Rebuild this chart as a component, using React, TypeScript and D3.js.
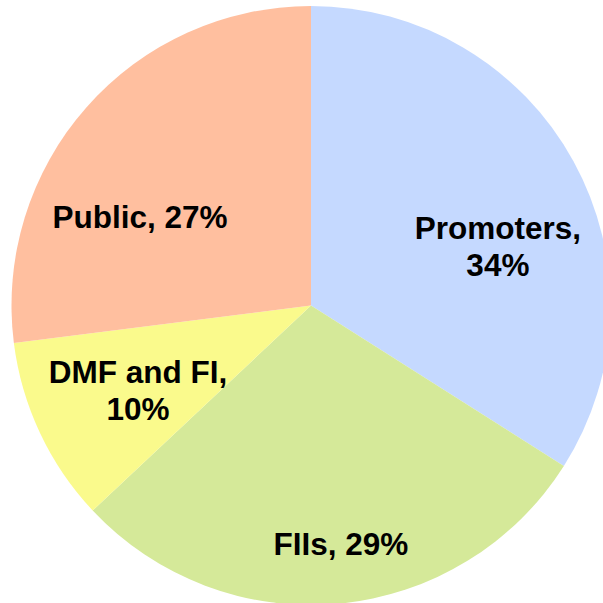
import * as d3 from "d3";

// shareholding split, clockwise from 12 o'clock
const categories = ["Promoters", "FIIs", "DMF and FI", "Public"];
const shares = [34, 29, 10, 27];
const colors = ["#c5d9ff", "#d5e999", "#fafa8c", "#ffbf9f"];
// label lines as shown on the chart
const labelLines = [["Promoters,", "34%"], ["FIIs, 29%"], ["DMF and FI,", "10%"], ["Public, 27%"]];
// label anchor (first baseline) relative to pie centre, in units of radius
const labelOffsets: [number, number][] = [
  [0.624, -0.222],
  [0.1, 0.833],
  [-0.578, 0.259],
  [-0.571, -0.259],
];

const W = 603;
const H = 603;
const cx = 311;
const cy = 305.5;
const R = 299.5;

export default function App() {
  const pie = d3
    .pie<number>()
    .sort(null)
    .value((d) => d);
  const arcs = pie(shares);
  const arc = d3.arc<d3.PieArcDatum<number>>().innerRadius(0).outerRadius(R);

  return (
    <svg
      width={W}
      height={H}
      style={{ position: "absolute", left: 0, top: 0, background: "#fff" }}
    >
      <g transform={`translate(${cx},${cy})`}>
        {arcs.map((a, i) => (
          <path key={categories[i]} d={arc(a) || ""} fill={colors[i]} />
        ))}
        {arcs.map((a, i) => {
          const [ox, oy] = labelOffsets[i];
          return (
            <text
              key={`lbl-${i}`}
              x={ox * R}
              y={oy * R}
              textAnchor="middle"
              fontFamily="'Liberation Sans', Arial, sans-serif"
              fontWeight="bold"
              fontSize={31.5}
              fill="#000"
            >
              {labelLines[i].map((line, j) => (
                <tspan key={j} x={ox * R} dy={j === 0 ? 0 : 37}>
                  {line}
                </tspan>
              ))}
            </text>
          );
        })}
      </g>
    </svg>
  );
}
